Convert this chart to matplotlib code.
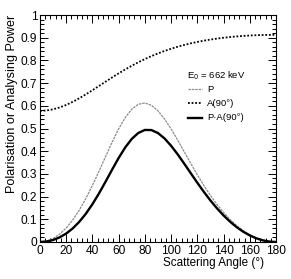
import matplotlib
matplotlib.use("Agg")
import matplotlib.pyplot as plt
from matplotlib.ticker import MultipleLocator
from matplotlib.lines import Line2D

plt.rcParams['font.family'] = ['Liberation Sans', 'DejaVu Sans']

angle = [0, 5, 10, 15, 20, 25, 30, 35, 40, 45, 50, 55, 60, 65, 70, 75, 80, 85, 90,
         95, 100, 105, 110, 115, 120, 125, 130, 135, 140, 145, 150, 155, 160, 165, 170, 175, 180]
P = [0.0, 0.0038, 0.0153, 0.0346, 0.0619, 0.0974, 0.1408, 0.1918, 0.2493, 0.3116,
     0.3763, 0.4398, 0.4985, 0.5481, 0.5851, 0.6069, 0.6124, 0.6021, 0.5777,
     0.5419, 0.4980, 0.4490, 0.3976, 0.3461, 0.2961, 0.2488, 0.2051, 0.1654,
     0.1300, 0.0989, 0.0723, 0.0499, 0.0318, 0.0178, 0.0079, 0.0020, 0.0]
A90 = [0.5777, 0.5794, 0.5845, 0.5928, 0.6039, 0.6176, 0.6332, 0.6504, 0.6686, 0.6874,
       0.7062, 0.7248, 0.7429, 0.7602, 0.7765, 0.7918, 0.8059, 0.8189, 0.8308,
       0.8417, 0.8514, 0.8602, 0.8681, 0.8752, 0.8814, 0.8870, 0.8918, 0.8961,
       0.8998, 0.9030, 0.9056, 0.9078, 0.9096, 0.9110, 0.9119, 0.9125, 0.9127]
PA = [0.0, 0.0022, 0.0089, 0.0205, 0.0374, 0.0601, 0.0892, 0.1247, 0.1667, 0.2142,
      0.2657, 0.3188, 0.3703, 0.4166, 0.4543, 0.4805, 0.4936, 0.4931, 0.4799,
      0.4561, 0.4240, 0.3863, 0.3452, 0.3029, 0.2610, 0.2207, 0.1829, 0.1482,
      0.1170, 0.0893, 0.0654, 0.0453, 0.0289, 0.0162, 0.0072, 0.0018, 0.0]

labels = ["P", "A(90°)", "P·A(90°)"]

fig = plt.figure(figsize=(2.91, 2.79), dpi=100)
ax = fig.add_axes([40/291, 37/279, 236/291, 227/279])

st_P = dict(color='#8c8c8c', lw=0.9, linestyle=(0, (2.0, 0.7)))
st_A = dict(color='black', lw=1.3, linestyle=(0, (1.0, 1.0)))
st_PA = dict(color='black', lw=1.7, linestyle='-')

ax.plot(angle, P, **st_P)
ax.plot(angle, A90, **st_A)
ax.plot(angle, PA, **st_PA)

ax.set_xlim(0, 180)
ax.set_ylim(0, 1)
ax.xaxis.set_major_locator(MultipleLocator(20))
ax.xaxis.set_minor_locator(MultipleLocator(4))
ax.yaxis.set_major_locator(MultipleLocator(0.1))
ax.yaxis.set_minor_locator(MultipleLocator(0.02))
ax.tick_params(which='both', direction='in', top=True, right=True, width=0.7,
               labelsize=8.6, pad=2)
ax.tick_params(which='major', length=5.5)
ax.tick_params(which='minor', length=2.8)
ax.set_yticks([0, 0.1, 0.2, 0.3, 0.4, 0.5, 0.6, 0.7, 0.8, 0.9, 1.0])
ax.set_yticklabels(['0', '0.1', '0.2', '0.3', '0.4', '0.5', '0.6', '0.7', '0.8', '0.9', '1'])
for s in ax.spines.values():
    s.set_linewidth(0.8)

ax.set_xlabel("Scattering Angle (°)", fontsize=8.4, ha='right')
ax.xaxis.set_label_coords(0.948, -0.068)
ax.set_ylabel("Polarisation or Analysing Power", fontsize=9.1, loc='top', labelpad=2)

# legend
fig.text(187/291, 1 - 76/279, "E$_0$ = 662 keV", fontsize=6.8, va='center', ha='left')
ys = [89, 103, 118]
for y, st, lab in zip(ys, [st_P, st_A, st_PA], labels):
    fig.add_artist(Line2D([188/291, 202/291], [1 - y/279, 1 - y/279], **st))
    fig.text(207/291, 1 - y/279, lab, fontsize=6.8, va='center', ha='left')

fig.savefig("out.png", dpi=100)
